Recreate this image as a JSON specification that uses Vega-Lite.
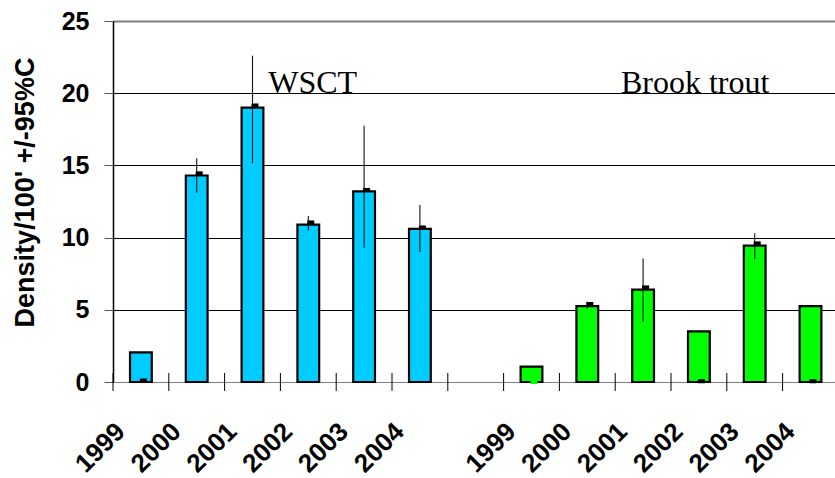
{
  "$schema": "https://vega.github.io/schema/vega-lite/v6.json",
  "autosize": "none",
  "width": 722,
  "height": 361,
  "padding": {"left": 113, "top": 21, "right": 0, "bottom": 96},
  "background": "white",
  "config": {"view": {"stroke": null}},
  "datasets": {
    "bars": [
      {"slot": "W1999", "species": "WSCT", "density": 2.05, "lo": null, "hi": null, "marker": 0.1},
      {"slot": "W2000", "species": "WSCT", "density": 14.3, "lo": 13.1, "hi": 15.5, "marker": 14.45},
      {"slot": "W2001", "species": "WSCT", "density": 19.0, "lo": 15.15, "hi": 22.6, "marker": 19.15},
      {"slot": "W2002", "species": "WSCT", "density": 10.9, "lo": 10.5, "hi": 11.5, "marker": 11.05},
      {"slot": "W2003", "species": "WSCT", "density": 13.2, "lo": 9.3, "hi": 17.75, "marker": 13.3},
      {"slot": "W2004", "species": "WSCT", "density": 10.6, "lo": 9.0, "hi": 12.25, "marker": 10.7},
      {"slot": "B1999", "species": "Brook trout", "density": 1.07, "lo": null, "hi": null, "marker": 0.0},
      {"slot": "B2000", "species": "Brook trout", "density": 5.25, "lo": 5.1, "hi": 5.55, "marker": 5.4},
      {"slot": "B2001", "species": "Brook trout", "density": 6.4, "lo": 4.15, "hi": 8.55, "marker": 6.55},
      {"slot": "B2002", "species": "Brook trout", "density": 3.5, "lo": null, "hi": null, "marker": 0.05},
      {"slot": "B2003", "species": "Brook trout", "density": 9.45, "lo": 8.5, "hi": 10.3, "marker": 9.6},
      {"slot": "B2004", "species": "Brook trout", "density": 5.25, "lo": null, "hi": null, "marker": 0.05}
    ],
    "slots": [
      {"slot": "W1999"}, {"slot": "W2000"}, {"slot": "W2001"}, {"slot": "W2002"}, {"slot": "W2003"}, {"slot": "W2004"},
      {"slot": "gap"},
      {"slot": "B1999"}, {"slot": "B2000"}, {"slot": "B2001"}, {"slot": "B2002"}, {"slot": "B2003"}, {"slot": "B2004"}
    ]
  },
  "encoding": {
    "x": {
      "field": "slot",
      "type": "nominal",
      "sort": null,
      "scale": {
        "type": "band",
        "domain": ["W1999", "W2000", "W2001", "W2002", "W2003", "W2004", "gap", "B1999", "B2000", "B2001", "B2002", "B2003", "B2004"],
        "range": [0, 725.4],
        "paddingInner": 0.61,
        "paddingOuter": 0.305
      },
      "axis": {
        "title": null,
        "domain": false,
        "ticks": false,
        "grid": false,
        "labelExpr": "datum.value == 'gap' ? '' : slice(datum.value, 1)",
        "labelAngle": -45,
        "labelAlign": "right",
        "labelBaseline": "middle",
        "labelFont": "Liberation Sans",
        "labelFontSize": 26,
        "labelFontWeight": "bold",
        "labelColor": "black",
        "labelPadding": 45,
        "labelOffset": -20,
        "labelOverlap": false,
        "labelBound": false,
        "labelFlush": false
      }
    }
  },
  "layer": [
    {
      "data": {"name": "bars"},
      "mark": {"type": "bar", "stroke": "black", "strokeWidth": 2.2},
      "encoding": {
        "y": {
          "field": "density",
          "type": "quantitative",
          "scale": {"domain": [0, 25], "nice": false, "zero": true},
          "axis": {
            "values": [0, 5, 10, 15, 20, 25],
            "grid": true,
            "gridColor": {"condition": {"test": "datum.value == 25 || datum.value == 0", "value": "#808080"}, "value": "black"},
            "gridWidth": {"condition": {"test": "datum.value == 25", "value": 2}, "value": 1},
            "domainColor": "black",
            "domainWidth": 1.5,
            "tickColor": "#555555",
            "tickSize": 9,
            "tickWidth": 1,
            "labelFont": "Liberation Sans",
            "labelFontSize": 25,
            "labelFontWeight": "bold",
            "labelColor": "black",
            "labelPadding": 15,
            "labelBaseline": "middle",
            "title": "Density/100' +/-95%C",
            "titleFont": "Liberation Sans",
            "titleFontSize": 27,
            "titleFontWeight": "bold",
            "titleColor": "black",
            "titleAngle": -90,
            "titleAlign": "center",
            "titleBaseline": "alphabetic",
            "titleX": -80,
            "titleY": 171
          }
        },
        "color": {
          "field": "species",
          "type": "nominal",
          "scale": {"domain": ["WSCT", "Brook trout"], "range": ["#00CCFF", "#00FF00"]},
          "legend": null
        }
      }
    },
    {
      "data": {"name": "bars"},
      "transform": [{"filter": "isValid(datum.lo)"}],
      "mark": {"type": "rule", "color": "#111111", "strokeWidth": 1.1},
      "encoding": {
        "y": {"field": "lo", "type": "quantitative"},
        "y2": {"field": "hi"}
      }
    },
    {
      "data": {"name": "bars"},
      "mark": {"type": "tick", "orient": "horizontal", "size": 7, "thickness": 4, "xOffset": 2.5, "opacity": 1},
      "encoding": {
        "y": {"field": "marker", "type": "quantitative"},
        "color": {"condition": {"test": "datum.slot == 'B1999'", "value": "#00FF00"}, "value": "black"}
      }
    },
    {
      "data": {"name": "slots"},
      "mark": {"type": "tick", "orient": "vertical", "size": 18, "thickness": 1, "color": "black", "opacity": 1},
      "encoding": {
        "x": {"field": "slot", "type": "nominal", "bandPosition": -0.782},
        "y": {"datum": 0, "type": "quantitative"}
      }
    },
    {
      "data": {"values": [{"slot": "W2002", "y": 20, "label": "WSCT"}]},
      "mark": {"type": "text", "font": "Liberation Serif", "fontSize": 32, "align": "center", "baseline": "alphabetic", "dx": 4.4, "dy": -0.5, "color": "black"},
      "encoding": {
        "y": {"field": "y", "type": "quantitative"},
        "text": {"field": "label"}
      }
    },
    {
      "data": {"values": [{"slot": "B2002", "y": 20, "label": "Brook trout"}]},
      "mark": {"type": "text", "font": "Liberation Serif", "fontSize": 32, "align": "center", "baseline": "alphabetic", "dx": -3.7, "dy": -0.5, "color": "black"},
      "encoding": {
        "y": {"field": "y", "type": "quantitative"},
        "text": {"field": "label"}
      }
    }
  ]
}
